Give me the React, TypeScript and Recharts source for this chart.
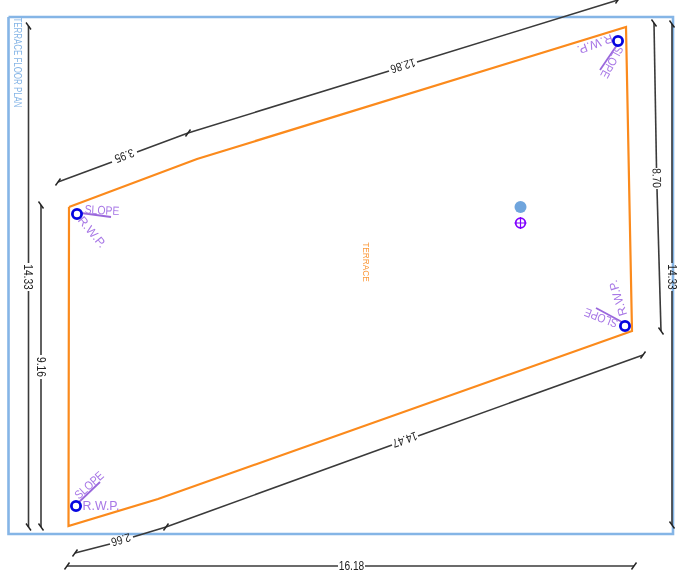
import { ScatterChart, Scatter, XAxis, YAxis } from "recharts";

// plan outline and frame (x to the right, y downwards)
const frame = [
  { x: 8.5, y: 17 },
  { x: 673, y: 17 },
  { x: 673, y: 534 },
  { x: 8.5, y: 534 },
  { x: 8.5, y: 17 },
];
const terrace = [
  { x: 69, y: 207 },
  { x: 197, y: 159 },
  { x: 626, y: 27 },
  { x: 632, y: 331 },
  { x: 158, y: 499 },
  { x: 68.5, y: 526 },
  { x: 69, y: 207 },
];

// dimension lines, each one split where its label sits
const dimensionLines = [
  [{ x: 28.5, y: 26 }, { x: 28.5, y: 263 }],
  [{ x: 28.5, y: 291 }, { x: 28.5, y: 527 }],
  [{ x: 41, y: 205 }, { x: 41, y: 355 }],
  [{ x: 41, y: 379 }, { x: 41, y: 527 }],
  [{ x: 58, y: 182 }, { x: 112, y: 162 }],
  [{ x: 137, y: 152 }, { x: 188, y: 133 }],
  [{ x: 188, y: 133 }, { x: 389, y: 71 }],
  [{ x: 417, y: 62 }, { x: 618, y: 0 }],
  [{ x: 75, y: 553 }, { x: 110, y: 544 }],
  [{ x: 133, y: 537 }, { x: 166, y: 527 }],
  [{ x: 166, y: 527 }, { x: 392, y: 445 }],
  [{ x: 418, y: 436 }, { x: 643, y: 355 }],
  [{ x: 654, y: 23 }, { x: 656.5, y: 168 }],
  [{ x: 657, y: 189 }, { x: 661, y: 331 }],
  [{ x: 672, y: 24 }, { x: 672, y: 263 }],
  [{ x: 672, y: 291 }, { x: 672, y: 525 }],
  [{ x: 67, y: 566 }, { x: 338, y: 566 }],
  [{ x: 365, y: 566 }, { x: 634, y: 566 }],
];
const slashTicks = [
  { x: 58, y: 182 },
  { x: 188, y: 133 },
  { x: 75, y: 553 },
  { x: 166, y: 527 },
  { x: 643, y: 355 },
  { x: 67, y: 566 },
  { x: 634, y: 566 },
  { x: 618, y: 0 },
];
const backslashTicks = [
  { x: 28.5, y: 26 },
  { x: 28.5, y: 527 },
  { x: 41, y: 205 },
  { x: 41, y: 527 },
  { x: 654, y: 23 },
  { x: 661, y: 331 },
  { x: 672, y: 24 },
  { x: 672, y: 525 },
];

const dimensionText = ["14.33", "9.16", "3.95", "12.86", "2.66", "14.47", "8.70", "14.33", "16.18"];
const dimensionX = [28.5, 41, 124.5, 403, 121, 405, 657, 672, 351.5];
const dimensionY = [277, 367, 156, 66, 540, 440, 178, 277, 566];
const dimensionAngle = [90, 90, 159, 163, 164, 160, 89, 90, 0];

// rain water pipes and the slope strokes next to them
const pipes = [
  { x: 77, y: 214 },
  { x: 76, y: 506 },
  { x: 618, y: 41 },
  { x: 625, y: 326 },
];
const slopeLines = [
  [{ x: 81, y: 213 }, { x: 111, y: 217 }],
  [{ x: 78, y: 503 }, { x: 100, y: 482 }],
  [{ x: 617, y: 45 }, { x: 600, y: 70 }],
  [{ x: 622, y: 322 }, { x: 596, y: 308 }],
];
const slopeTextX = [102, 89, 612, 601];
const slopeTextY = [210, 485, 62, 318];
const slopeTextAngle = [3, -42, 118, 201];
const rwpTextX = [92, 101, 595, 618];
const rwpTextY = [232, 506, 44, 298];
const rwpTextAngle = [50, 0, 160, 253];

const floorPlanTitle = [{ x: 18.5, y: 62.5, text: "TERRACE FLOOR PLAN" }];
const roomLabel = [{ x: 366, y: 262, text: "TERRACE" }];
const blueDot = [{ x: 520.5, y: 207 }];
const purpleMark = [{ x: 520.5, y: 223 }];

const zip = (text: string[], xs: number[], ys: number[], angles: number[]) =>
  text.map((t, i) => ({ text: t, x: xs[i], y: ys[i], angle: angles[i] }));

const dimensionLabels = zip(dimensionText, dimensionX, dimensionY, dimensionAngle);
const slopeLabels = zip(slopeTextX.map(() => "SLOPE"), slopeTextX, slopeTextY, slopeTextAngle);
const rwpLabels = zip(rwpTextX.map(() => "R.W.P."), rwpTextX, rwpTextY, rwpTextAngle);

const DARK = "#3a3a3a";
const PURPLE = "#a878e6";
const BLUE = "#85b5e6";
const FONT = "'Liberation Sans', Arial, sans-serif";

const noPoint = () => <g />;

// the drawing's text is narrower than the font, so squeeze it along its baseline
const labelShape = (size: number, color: string, squeeze: number, fixedAngle?: number) => (p: any) => {
  const angle = fixedAngle ?? p.payload.angle;
  return (
    <text
      fontSize={size}
      fontFamily={FONT}
      fill={color}
      textAnchor="middle"
      dominantBaseline="central"
      transform={`translate(${p.cx} ${p.cy}) rotate(${angle}) scale(${squeeze} 1)`}
    >
      {p.payload.text}
    </text>
  );
};

const tickShape = (dir: number) => (p: any) => (
  <path
    d={`M${p.cx - 2.5},${p.cy + 3.5 * dir}L${p.cx + 2.5},${p.cy - 3.5 * dir}`}
    stroke="#222"
    strokeWidth={1.4}
    fill="none"
  />
);

export default function App() {
  return (
    <div style={{ position: "absolute", left: 0, top: 0, filter: "blur(0.3px)" }}>
      <ScatterChart width={685} height={585} margin={{ top: 0, right: 0, bottom: 0, left: 0 }}>
        <XAxis type="number" dataKey="x" domain={[0, 685]} hide />
        <YAxis type="number" dataKey="y" domain={[0, 585]} reversed hide />

        <Scatter
          data={frame}
          line={{ stroke: BLUE, strokeWidth: 2.6 }}
          shape={noPoint}
          isAnimationActive={false}
        />
        <Scatter
          data={terrace}
          line={{ stroke: "#fb8a1c", strokeWidth: 2.2 }}
          shape={noPoint}
          isAnimationActive={false}
        />

        {dimensionLines.map((seg, i) => (
          <Scatter
            key={`dim-${i}`}
            data={seg}
            line={{ stroke: DARK, strokeWidth: 1.6 }}
            shape={noPoint}
            isAnimationActive={false}
          />
        ))}
        <Scatter data={slashTicks} shape={tickShape(1)} isAnimationActive={false} />
        <Scatter data={backslashTicks} shape={tickShape(-1)} isAnimationActive={false} />
        <Scatter data={dimensionLabels} shape={labelShape(12, "#222", 0.85)} isAnimationActive={false} />

        {slopeLines.map((seg, i) => (
          <Scatter
            key={`slope-${i}`}
            data={seg}
            line={{ stroke: "#9a68dc", strokeWidth: 1.8 }}
            shape={noPoint}
            isAnimationActive={false}
          />
        ))}
        <Scatter data={slopeLabels} shape={labelShape(12, PURPLE, 0.87)} isAnimationActive={false} />
        <Scatter data={rwpLabels} shape={labelShape(12, PURPLE, 1.03)} isAnimationActive={false} />
        <Scatter
          data={pipes}
          shape={(p: any) => (
            <circle cx={p.cx} cy={p.cy} r={4.6} fill="none" stroke="#0505e0" strokeWidth={2.8} />
          )}
          isAnimationActive={false}
        />

        <Scatter data={floorPlanTitle} shape={labelShape(11, BLUE, 0.72, 90)} isAnimationActive={false} />
        <Scatter data={roomLabel} shape={labelShape(9, "#fb9a3c", 0.92, 90)} isAnimationActive={false} />
        <Scatter
          data={blueDot}
          shape={(p: any) => <circle cx={p.cx} cy={p.cy} r={6} fill="#6fa5dd" />}
          isAnimationActive={false}
        />
        <Scatter
          data={purpleMark}
          shape={(p: any) => (
            <g fill="none" stroke="#8000ff" strokeWidth={1.8}>
              <circle cx={p.cx} cy={p.cy} r={4.8} />
              <path d={`M${p.cx - 6},${p.cy}H${p.cx + 6}M${p.cx},${p.cy - 6}V${p.cy + 6}`} strokeWidth={1.2} />
            </g>
          )}
          isAnimationActive={false}
        />
      </ScatterChart>
    </div>
  );
}
